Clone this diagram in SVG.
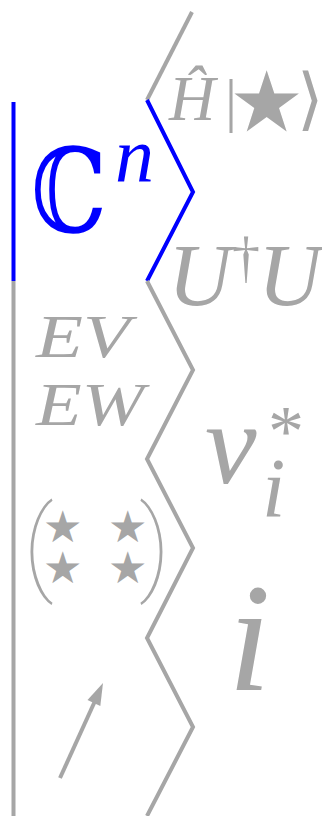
<svg xmlns="http://www.w3.org/2000/svg" width="322" height="816" viewBox="0 0 322 816">
<defs>
<style>
.g{stroke:#a6a6a6;stroke-width:4;fill:none;stroke-linejoin:miter;stroke-linecap:butt}
.b{stroke:#0000ff;stroke-width:4;fill:none}
.m{font-family:"Liberation Serif","DejaVu Serif",serif;font-style:italic;fill:#a6a6a6}
.r{font-family:"Liberation Serif","DejaVu Serif",serif;fill:#a6a6a6}
.s{font-family:"DejaVu Sans",sans-serif;fill:#a6a6a6}
.p{font-family:Roboto,"DejaVu Sans",sans-serif;font-weight:100;fill:#a6a6a6}
</style>
</defs>
<g id="connectors">
<line class="b" x1="13.5" y1="102" x2="13.5" y2="281"/>
<line class="g" x1="13.5" y1="281" x2="13.5" y2="816"/>
<polyline class="g" points="192,12 147,100"/>
<polyline class="b" points="147,100 193,192 147,281"/>
<polyline class="g" points="147,281 193,370 147,459 193,548 147,638 193,727 147,816"/>
<line class="g" stroke-linecap="round" x1="60" y1="778" x2="95" y2="701"/>
<polygon points="103,683 100.3,705.9 87.5,700.1" fill="#a6a6a6"/>
</g>
<g id="bra-ket">
<text class="m" x="169" y="120" font-size="64">Ĥ</text>
<text class="r" x="225" y="120" font-size="60">|</text>
<text class="s" x="229" y="131" font-size="84">★</text>
<text class="s" x="297" y="122" font-size="68">⟩</text>
</g>
<g id="cn">
<text x="31" y="232" font-size="117" font-family="DejaVu Serif,serif" fill="#0000ff" textLength="76" lengthAdjust="spacingAndGlyphs">ℂ</text>
<text x="115" y="182" font-size="78" font-family="Liberation Serif,serif" font-style="italic" fill="#0000ff">n</text>
</g>
<g id="udu">
<text class="m" x="168" y="305" font-size="88">U</text>
<text class="r" x="232" y="276" font-size="56">†</text>
<text class="m" x="258" y="305" font-size="88">U</text>
</g>
<g id="ev-ew">
<text class="m" x="36" y="357" font-size="61" textLength="94" lengthAdjust="spacingAndGlyphs">EV</text>
<text class="m" x="36" y="425" font-size="61" textLength="108" lengthAdjust="spacingAndGlyphs">EW</text>
</g>
<g id="vi">
<text class="m" x="205" y="483" font-size="116">v</text>
<text class="r" x="268" y="455" font-size="72">*</text>
<text class="m" x="262" y="517" font-size="84">i</text>
</g>
<g id="matrix">
<text class="p" x="23" y="581" font-size="104">(</text>
<text class="p" x="139" y="581" font-size="104">)</text>
<text class="s" x="43" y="542" font-size="44">★</text>
<text class="s" x="108" y="542" font-size="44">★</text>
<text class="s" x="43" y="583" font-size="44">★</text>
<text class="s" x="108" y="583" font-size="44">★</text>
</g>
<g id="i-big">
<text class="m" x="228" y="690" font-size="154">i</text>
</g>
</svg>
